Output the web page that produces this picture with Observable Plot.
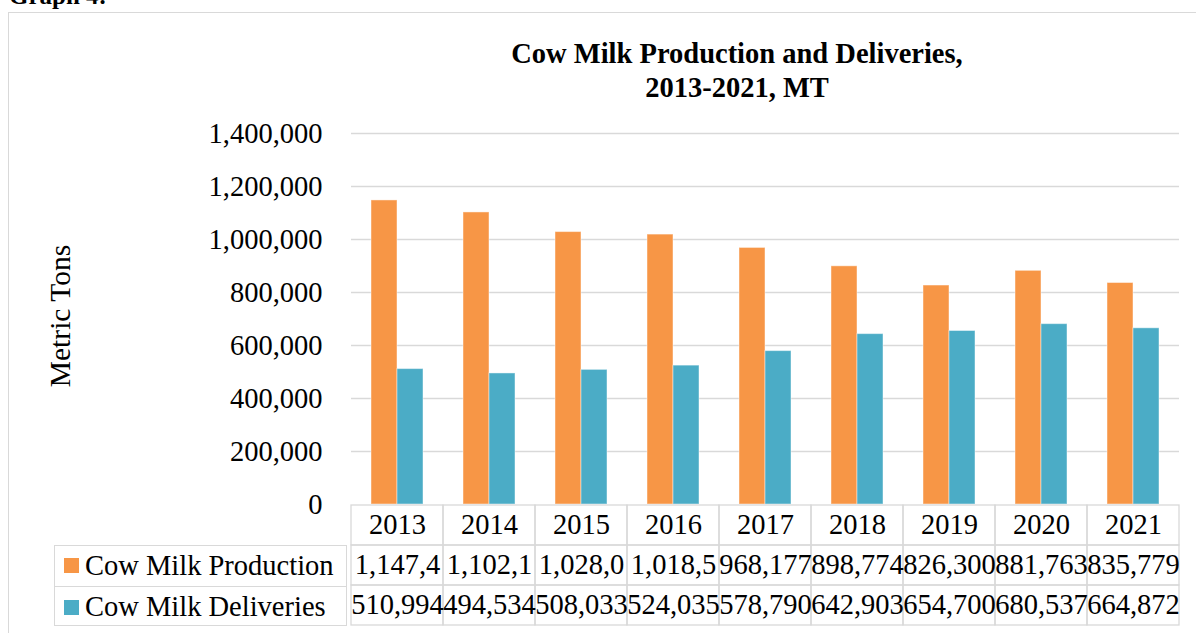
<!DOCTYPE html>
<html>
<head>
<meta charset="utf-8">
<script src="https://cdn.jsdelivr.net/npm/d3@7"></script>
<script src="https://cdn.jsdelivr.net/npm/@observablehq/plot@0.6"></script>
<style>
  body { margin: 0; background: #fff; }
  #page {
    position: relative; width: 1196px; height: 633px; overflow: hidden;
    font-family: "Liberation Serif", "Times New Roman", serif; color: #000;
  }
  .abs { position: absolute; }
  .frame { left: 8px; top: 12px; width: 1400px; height: 800px; border: 1.3px solid #d9d9d9; }
  .heading { left: 9px; top: -17px; font-size: 25px; font-weight: bold; line-height: 25px; white-space: nowrap; }
  .title { left: 437px; width: 600px; top: 37px; text-align: center; font-size: 28.5px; font-weight: bold; line-height: 34px; }
  .ytitle { left: 60px; top: 316px; font-size: 29.5px; line-height: 32px; white-space: nowrap;
            transform: translate(-50%, -50%) rotate(-90deg); }
  .legend { left: 54px; width: 293px; border: 1.3px solid #d9d9d9; box-sizing: border-box; }
  .legend div { display: flex; align-items: center; font-size: 28.5px; white-space: nowrap; box-sizing: border-box; }
  .legend div + div { border-top: 1.3px solid #d9d9d9; }
  .legend span.sw { display: inline-block; width: 15px; height: 15px; margin: 0 6px 0 9px; }
</style>
</head>
<body>
<div id="page"></div>
<script>
// Categories and series
const years = ["2013", "2014", "2015", "2016", "2017", "2018", "2019", "2020", "2021"];
const seriesNames = ["Cow Milk Production", "Cow Milk Deliveries"];
const seriesColors = ["#F79646", "#4BACC6"];

// Metric tons per year
const production = [1147400, 1102100, 1028000, 1018500, 968177, 898774, 826300, 881763, 835779];
const deliveries = [510994, 494534, 508033, 524035, 578790, 642903, 654700, 680537, 664872];

// Axis ticks and texts
const yTicks = [0, 200000, 400000, 600000, 800000, 1000000, 1200000, 1400000];
const titleLines = ["Cow Milk Production and Deliveries,", "2013-2021, MT"];
const yTitle = "Metric Tons";
const heading = "Graph 4:";

// Layout
const W = 1196, ML = 348, MR = 14;
const FONT = "28.5px";
const fmt = d3.format(",");
const page = document.getElementById("page");

function addDiv(cls, html) {
  const d = document.createElement("div");
  d.className = "abs " + cls;
  d.innerHTML = html;
  page.appendChild(d);
  return d;
}

addDiv("frame", "");
addDiv("heading", heading);
addDiv("title", titleLines.join("<br>"));
addDiv("ytitle", yTitle);

// Bars: one group per year, two series side by side
const bars = years.flatMap((year, i) => [
  {year, series: seriesNames[0], value: production[i]},
  {year, series: seriesNames[1], value: deliveries[i]}
]);

const chart = Plot.plot({
  width: W,
  height: 508,
  marginTop: 133,
  marginBottom: 4,
  marginLeft: ML,
  marginRight: MR,
  style: {fontFamily: "Liberation Serif", fontSize: FONT, color: "#000", background: "transparent", overflow: "visible"},
  fx: {domain: years, padding: 0, axis: null},
  x: {domain: seriesNames, paddingInner: 0, paddingOuter: 0.747, axis: null},
  y: {domain: [0, 1400000], ticks: yTicks, tickFormat: fmt, tickSize: 0, tickPadding: 29, label: null},
  color: {domain: seriesNames, range: seriesColors},
  marks: [
    Plot.ruleY(yTicks.filter(v => v > 0), {stroke: "#d9d9d9", strokeWidth: 1.3}),
    Plot.barY(bars, {fx: "year", x: "series", y: "value", fill: "series",
                     stroke: "#ffffff", strokeOpacity: 0.45, strokeWidth: 1})
  ]
});
chart.style.position = "absolute";
chart.style.left = "0px";
chart.style.top = "0px";
page.appendChild(chart);

// Data table under the axis: cell text is cut to what fits the cell width
const cellWidth = (W - ML - MR) / years.length;
const ctx = document.createElement("canvas").getContext("2d");
ctx.font = `${FONT} "Liberation Serif"`;
function fit(s) {
  let t = s;
  while (t.length > 1 && ctx.measureText(t).width > cellWidth + 1) t = t.slice(0, -1);
  return t;
}

const rowKeys = ["header", ...seriesNames];
const cells = years.flatMap((year, i) => [
  {year, row: "header", label: year},
  {year, row: seriesNames[0], label: fit(fmt(production[i]))},
  {year, row: seriesNames[1], label: fit(fmt(deliveries[i]))}
]);

const TT = 500, TMT = 4, TMB = 7, TH = 133;
const table = Plot.plot({
  width: W,
  height: TH,
  marginTop: TMT,
  marginBottom: TMB,
  marginLeft: ML,
  marginRight: MR,
  style: {fontFamily: "Liberation Serif", fontSize: FONT, color: "#000", background: "transparent", overflow: "visible"},
  fx: {domain: years, padding: 0, axis: null},
  y: {domain: rowKeys, padding: 0, axis: null},
  marks: [
    Plot.cell(cells, {fx: "year", y: "row", fill: "none", stroke: "#d9d9d9", strokeWidth: 1.3}),
    Plot.text(cells, {fx: "year", y: "row", text: "label", fill: "#000", dy: -1})
  ]
});
table.style.position = "absolute";
table.style.left = "0px";
table.style.top = TT + "px";
page.appendChild(table);

// Legend cells to the left of the series rows
const rowH = (TH - TMT - TMB) / rowKeys.length;
const legend = addDiv("legend", "");
legend.style.top = (TT + TMT + rowH) + "px";
legend.style.height = (2 * rowH) + "px";
legend.innerHTML = seriesNames.map((name, i) =>
  `<div style="height:${rowH}px"><span class="sw" style="background:${seriesColors[i]}"></span>${name}</div>`
).join("");
</script>
</body>
</html>
